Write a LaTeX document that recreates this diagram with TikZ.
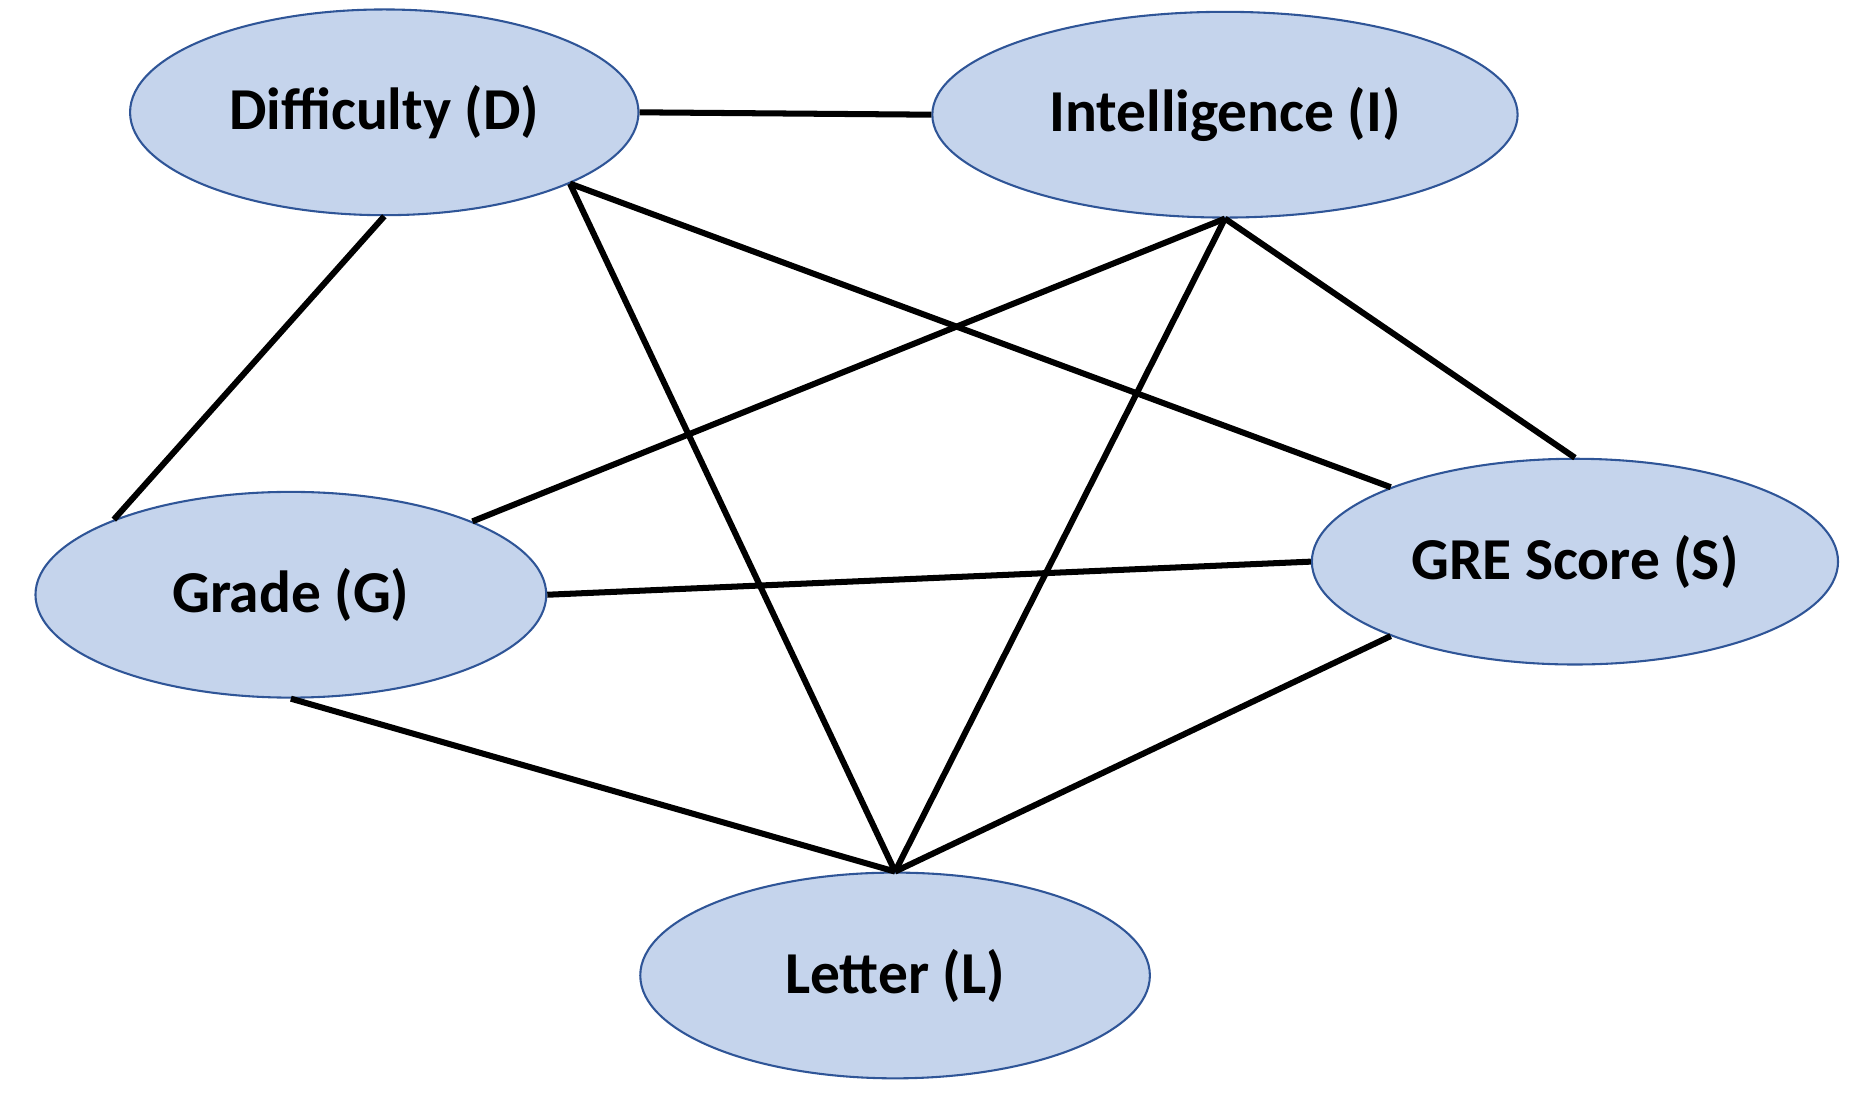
\documentclass[tikz,border=0pt]{standalone}
\usepackage{fontspec}
\setmainfont{Carlito}
\usepackage{tikz}
\usetikzlibrary{shapes.geometric}

\definecolor{varfill}{HTML}{C5D4EC}
\definecolor{vardraw}{HTML}{2F5597}

\begin{document}
\begin{tikzpicture}[x=0.1mm, y=-0.1mm]

\tikzstyle{var}=[ellipse, draw=vardraw, fill=varfill, line width=0.5pt,
  minimum height=17.4mm, inner sep=0pt,
  font=\fontsize{14.3}{17}\selectfont\bfseries]
\tikzstyle{edge}=[line width=1.45pt, draw=black]

\useasboundingbox (0,0) rectangle (1568,926);

\node [var, minimum width=43mm] (diff) at (325,95) {Difficulty (D)};
\node [var, minimum width=49.5mm] (intel) at (1036,97) {Intelligence (I)};
\node [var, minimum width=43.2mm] (grade) at (246,503) {Grade (G)};
\node [var, minimum width=44.5mm] (gre) at (1332,475) {GRE Score (S)};
\node [var, minimum width=43.1mm] (letter) at (757,825) {Letter (L)};

\draw [edge] (diff.east) -- (intel.west);
\draw [edge] (diff.south) -- (grade.157);
\draw [edge] (diff.-21) -- (letter.north);
\draw [edge] (diff.-21) -- (gre.158);

\draw [edge] (intel.south) -- (grade.22);
\draw [edge] (intel.south) -- (letter.north);
\draw [edge] (intel.south) -- (gre.north);

\draw [edge] (grade.east) -- (gre.west);
\draw [edge] (grade.south) -- (letter.north);
\draw [edge] (gre.-158) -- (letter.north);

\end{tikzpicture}
\end{document}
